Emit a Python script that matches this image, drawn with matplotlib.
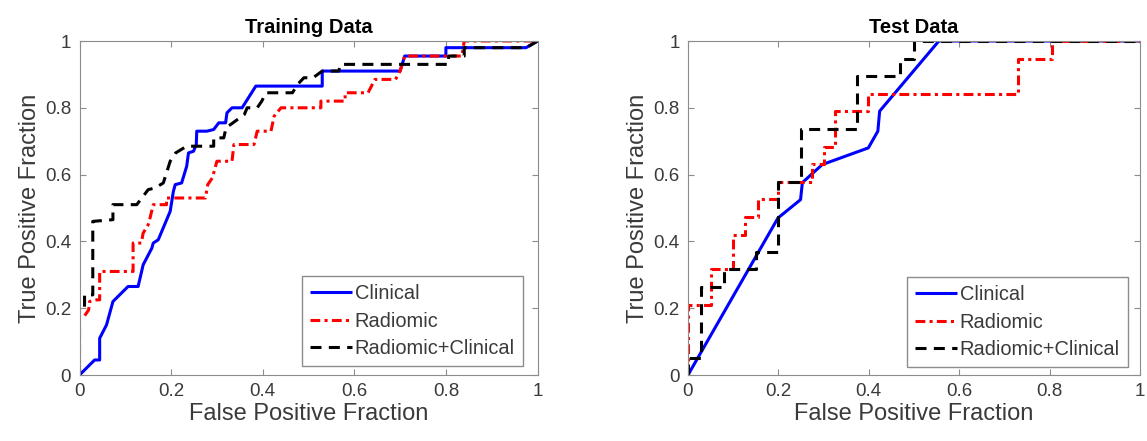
import matplotlib
matplotlib.use("Agg")
import matplotlib.pyplot as plt

# ROC points (false positive fraction, true positive fraction)
train_clin_fpr = [0, 0.033, 0.044, 0.044, 0.059, 0.073, 0.106, 0.128, 0.139, 0.158, 0.161, 0.172,
                  0.198, 0.205, 0.209, 0.223, 0.234, 0.238, 0.249, 0.255, 0.256, 0.278, 0.293, 0.304,
                  0.319, 0.322, 0.333, 0.355, 0.385, 0.53, 0.53, 0.70, 0.71, 0.80, 0.80, 0.975, 1.0]
train_clin_tpr = [0, 0.045, 0.045, 0.11, 0.15, 0.22, 0.265, 0.265, 0.33, 0.38, 0.395, 0.405,
                  0.49, 0.55, 0.57, 0.575, 0.625, 0.665, 0.67, 0.69, 0.73, 0.73, 0.735, 0.755,
                  0.755, 0.785, 0.80, 0.80, 0.865, 0.865, 0.91, 0.91, 0.955, 0.955, 0.98, 0.98, 1.0]

train_rad_fpr = [0, 0, 0.01, 0.02, 0.022, 0.037, 0.044, 0.044, 0.117, 0.117, 0.135, 0.139, 0.150,
                 0.154, 0.161, 0.19, 0.19, 0.275, 0.28, 0.29, 0.30, 0.333, 0.337, 0.381, 0.388,
                 0.418, 0.425, 0.44, 0.527, 0.527, 0.58, 0.58, 0.63, 0.645, 0.69, 0.70, 0.71,
                 0.835, 0.84, 1.0]
train_rad_tpr = [0, 0.175, 0.175, 0.195, 0.22, 0.225, 0.225, 0.31, 0.31, 0.395, 0.395, 0.425, 0.45,
                 0.47, 0.51, 0.51, 0.53, 0.53, 0.57, 0.59, 0.64, 0.64, 0.69, 0.69, 0.73,
                 0.73, 0.775, 0.80, 0.80, 0.82, 0.82, 0.845, 0.845, 0.885, 0.885, 0.91, 0.955,
                 0.955, 1.0, 1.0]

train_comb_fpr = [0, 0, 0.011, 0.011, 0.029, 0.029, 0.073, 0.073, 0.125, 0.15, 0.165, 0.183, 0.198,
                  0.21, 0.234, 0.293, 0.293, 0.315, 0.32, 0.36, 0.366, 0.388, 0.398, 0.407, 0.465,
                  0.476, 0.49, 0.51, 0.53, 0.566, 0.57, 0.806, 0.806, 0.84, 0.84, 0.976, 1.0]
train_comb_tpr = [0, 0.20, 0.20, 0.24, 0.24, 0.46, 0.465, 0.51, 0.51, 0.555, 0.56, 0.575, 0.64,
                  0.665, 0.685, 0.685, 0.71, 0.71, 0.74, 0.78, 0.80, 0.80, 0.82, 0.845, 0.845,
                  0.87, 0.89, 0.89, 0.91, 0.91, 0.93, 0.93, 0.955, 0.955, 0.98, 0.98, 1.0]

test_clin_fpr = [0, 0.199, 0.249, 0.253, 0.297, 0.399, 0.42, 0.424, 0.555, 1.0]
test_clin_tpr = [0, 0.47, 0.525, 0.576, 0.63, 0.68, 0.73, 0.79, 1.0, 1.0]

test_rad_fpr = [0, 0, 0.05, 0.05, 0.10, 0.10, 0.126, 0.126, 0.155, 0.155, 0.199, 0.199, 0.275,
                0.275, 0.30, 0.30, 0.326, 0.326, 0.399, 0.399, 0.729, 0.729, 0.806, 0.806, 1.0]
test_rad_tpr = [0, 0.21, 0.21, 0.316, 0.316, 0.42, 0.42, 0.474, 0.474, 0.526, 0.526, 0.579, 0.579,
                0.632, 0.632, 0.684, 0.684, 0.789, 0.789, 0.842, 0.842, 0.947, 0.947, 1.0, 1.0]

test_comb_fpr = [0, 0, 0.028, 0.028, 0.079, 0.079, 0.151, 0.151, 0.199, 0.199, 0.249, 0.249,
                 0.373, 0.373, 0.47, 0.47, 0.50, 0.50, 1.0]
test_comb_tpr = [0, 0.05, 0.05, 0.263, 0.263, 0.316, 0.316, 0.368, 0.368, 0.579, 0.579, 0.737,
                 0.737, 0.895, 0.895, 0.947, 0.947, 1.0, 1.0]

ticks = [0, 0.2, 0.4, 0.6, 0.8, 1]
tick_labels = ["0", "0.2", "0.4", "0.6", "0.8", "1"]
series_names = ["Clinical", "Radiomic", "Radiomic+Clinical"]

plt.rcParams.update({
    "font.family": ["Liberation Sans", "DejaVu Sans"],
    "xtick.direction": "in",
    "ytick.direction": "in",
    "xtick.top": True,
    "ytick.right": True,
})

GRAY = "#8c8c8c"
TEXT = "#3a3a3a"

fig = plt.figure(figsize=(11.47, 4.41), dpi=100)
ax_train = fig.add_axes([79.5 / 1147, (441 - 375) / 441, 458 / 1147, 334 / 441])
ax_test = fig.add_axes([688 / 1147, (441 - 375) / 441, 452 / 1147, 334 / 441])

panels = [
    (ax_train, "Training Data",
     [(train_clin_fpr, train_clin_tpr), (train_rad_fpr, train_rad_tpr), (train_comb_fpr, train_comb_tpr)],
     (0.968, 0.027)),
    (ax_test, "Test Data",
     [(test_clin_fpr, test_clin_tpr), (test_rad_fpr, test_rad_tpr), (test_comb_fpr, test_comb_tpr)],
     (0.973, 0.024)),
]
# MATLAB-like line styles: solid, dash-dot, dashed
styles = [("#0000ff", (0, ())), ("#ff0000", (0, (3.2, 1.4, 1.0, 1.4))), ("#000000", (0, (3.6, 2.4)))]

for ax, title, curves, anchor in panels:
    for (fpr, tpr), (color, ls), name in zip(curves, styles, series_names):
        ax.plot(fpr, tpr, color=color, linestyle=ls, linewidth=2.2, label=name)
    ax.set_xlim(0, 1)
    ax.set_ylim(0, 1)
    ax.set_xticks(ticks)
    ax.set_xticklabels(tick_labels)
    ax.set_yticks(ticks)
    ax.set_yticklabels(tick_labels)
    ax.tick_params(colors=GRAY, labelcolor=TEXT, labelsize=13.5, length=4, pad=6)
    for spine in ax.spines.values():
        spine.set_color(GRAY)
    ax.set_xlabel("False Positive Fraction", fontsize=17, color=TEXT, labelpad=2)
    ax.set_ylabel("True Positive Fraction", fontsize=17, color=TEXT, labelpad=3)
    ax.set_title(title, fontsize=14.5, fontweight="bold", pad=6)
    leg = ax.legend(loc="lower right", bbox_to_anchor=anchor, borderaxespad=0, fontsize=14.4,
                    fancybox=False, edgecolor=GRAY, framealpha=1, handlelength=2.1,
                    handletextpad=0.15, labelspacing=0.42, borderpad=0.4)
    leg.get_frame().set_linewidth(1.0)
    for t in leg.get_texts():
        t.set_color(TEXT)

fig.savefig("out.png", dpi=100)
